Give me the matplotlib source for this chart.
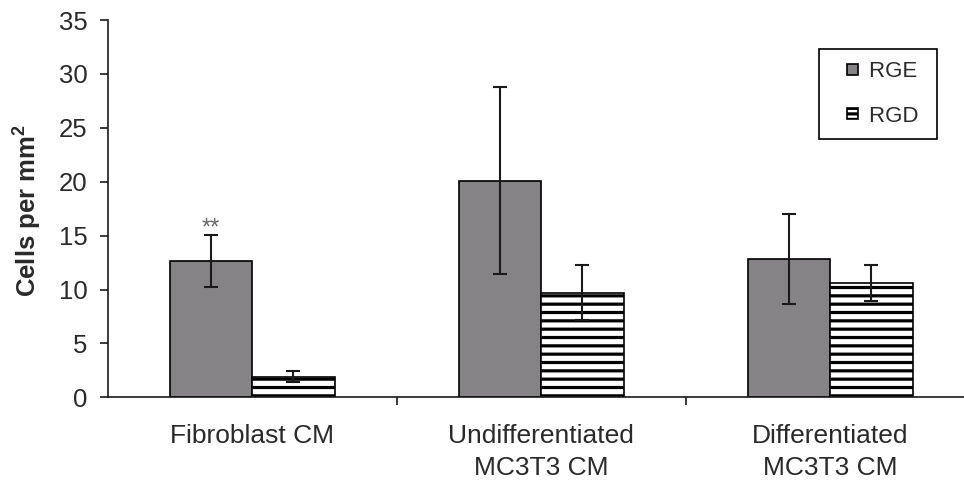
import numpy as np
import matplotlib
matplotlib.use("Agg")
import matplotlib.pyplot as plt
from matplotlib.patches import Patch, Rectangle
from matplotlib.legend_handler import HandlerPatch

plt.rcParams['font.family'] = ['Liberation Sans', 'DejaVu Sans']
plt.rcParams['mathtext.fontset'] = 'custom'
plt.rcParams['mathtext.rm'] = 'Liberation Sans'
plt.rcParams['mathtext.bf'] = 'Liberation Sans:bold'
plt.rcParams['hatch.linewidth'] = 2.3
plt.rcParams['hatch.color'] = 'black'

# datos
grupos = ['Fibroblast CM', 'Undifferentiated\nMC3T3 CM', 'Differentiated\nMC3T3 CM']
rge = [12.65, 20.1, 12.85]
rge_err = [2.4, 8.65, 4.2]
rgd = [1.9, 9.7, 10.6]
rgd_err = [0.5, 2.55, 1.7]
yticks = [0, 5, 10, 15, 20, 25, 30, 35]

W, H = 964, 487
fig = plt.figure(figsize=(W / 100, H / 100), dpi=100)
ax = fig.add_axes([107.7 / W, (H - 397.3) / H, (W - 107.7) / W, 377.3 / H])

x = np.arange(len(grupos))
ancho = 1 / 3.5
texto = '#2a2a2a'

ax.bar(x - ancho / 2, rge, ancho, color='#858385', edgecolor='black', linewidth=1.2,
       label='RGE', zorder=2)
ax.bar(x + ancho / 2, rgd, ancho, color='white', edgecolor='black', linewidth=1.2,
       hatch='--', label='RGD', zorder=2)
ax.errorbar(x - ancho / 2, rge, yerr=rge_err, fmt='none', ecolor='#1a1a1a',
            elinewidth=1.5, capsize=5, capthick=1.5, zorder=3)
ax.errorbar(x + ancho / 2, rgd, yerr=rgd_err, fmt='none', ecolor='#1a1a1a',
            elinewidth=1.5, capsize=5, capthick=1.5, zorder=3)

# asteriscos de significancia
ax.annotate('**', (x[0] - ancho / 2, rge[0] + rge_err[0]), xytext=(0, 0.5),
            textcoords='offset points', ha='center', va='baseline',
            fontsize=17, color='#666666')

ax.set_xlim(-0.5, -0.5 + (W - 107.7) / 289)
ax.set_ylim(0, 35)
ax.set_yticks(yticks)
ax.set_yticklabels([str(t) for t in yticks])
ax.tick_params(axis='y', direction='out', length=6, width=1.2, pad=8.5,
               labelsize=18.5, labelcolor=texto, color='#1a1a1a')

ax.set_xticks(x)
ax.set_xticklabels(grupos, linespacing=1.45)
ax.tick_params(axis='x', which='major', length=0, pad=19, labelsize=19, labelcolor=texto)
ax.set_xticks([0.5, 1.5], minor=True)
ax.tick_params(axis='x', which='minor', direction='out', length=6, width=1.2,
               color='#1a1a1a')

for s in ['top', 'right']:
    ax.spines[s].set_visible(False)
for s in ['left', 'bottom']:
    ax.spines[s].set_linewidth(1.2)
    ax.spines[s].set_color('#1a1a1a')

ax.set_ylabel(r'Cells per mm$^\mathbf{2}$', fontsize=18.5, fontweight='bold', color=texto)
ax.yaxis.set_label_coords(-0.076, 0.496)


# cuadrito pequeño pegado a la derecha del espacio del handle
def cuadro(legend, orig_handle, xdescent, ydescent, width, height, fontsize):
    lado = 0.5 * fontsize
    return Rectangle((-xdescent + width - lado, -ydescent + (height - lado) / 2), lado, lado)


handles = [Patch(facecolor='#858385', edgecolor='black', linewidth=1.2),
           Patch(facecolor='white', edgecolor='black', linewidth=1.2, hatch='---')]
leg = ax.legend(handles, ['RGE ', 'RGD '], loc='upper right',
                bbox_to_anchor=(936.7 / W, (H - 49) / H), bbox_transform=fig.transFigure,
                handler_map={Patch: HandlerPatch(patch_func=cuadro)},
                fontsize=16, handlelength=1.2, handleheight=0.6, handletextpad=0.5,
                labelspacing=1.05, borderpad=0.55, borderaxespad=0, fancybox=False,
                edgecolor='black', framealpha=1)
leg.get_frame().set_linewidth(1.2)
for t in leg.get_texts():
    t.set_color(texto)

fig.savefig('out.png', dpi=100)
